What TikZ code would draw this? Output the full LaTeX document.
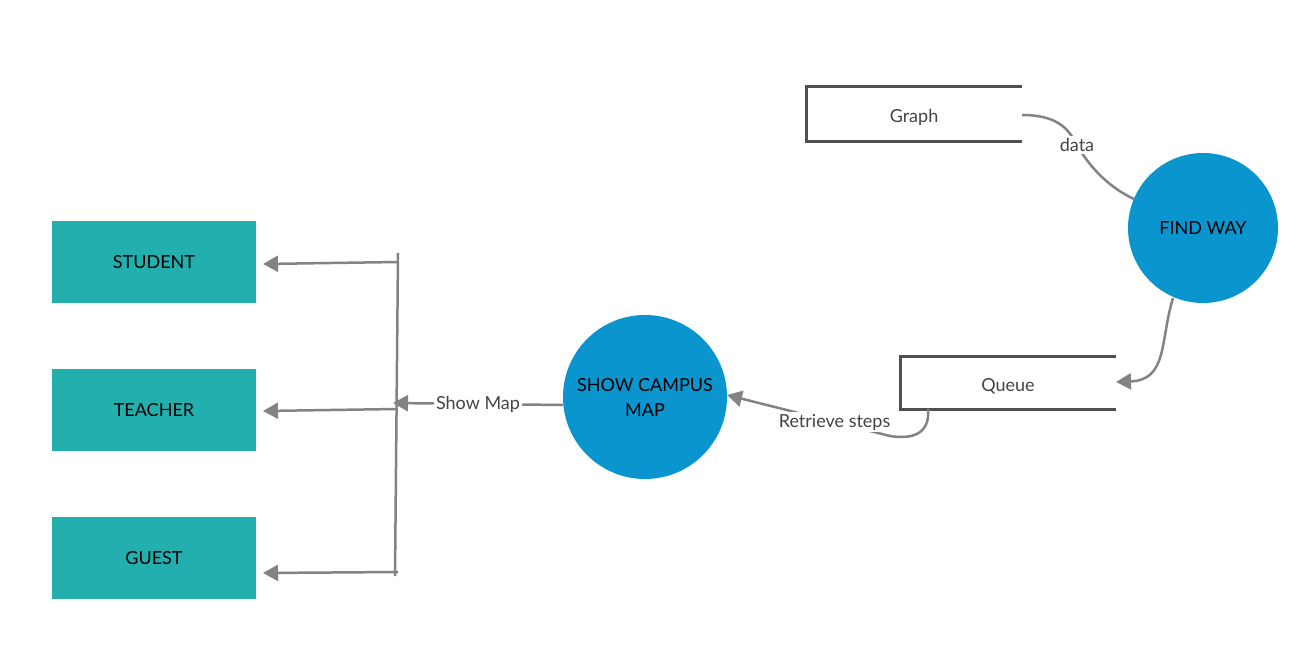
\documentclass[tikz,border=0pt]{standalone}
\usepackage{fontspec}
\setmainfont{Lato}
\usetikzlibrary{arrows.meta}
\definecolor{teal1}{HTML}{22AFAE}
\definecolor{blue1}{HTML}{0A95CE}
\definecolor{conn}{HTML}{838383}
\definecolor{store}{HTML}{4F4F4F}
\definecolor{lbl}{HTML}{444444}
\newcommand{\lowtxt}[1]{\raisebox{-2pt}{#1}}
\begin{document}
\begin{tikzpicture}[x=1pt,y=-1pt,
  actor/.style={draw=none,fill=teal1,minimum width=204pt,minimum height=82pt,inner sep=0pt,font=\fontsize{18}{22}\selectfont,text=black},
  proc/.style={circle,fill=blue1,draw=none,inner sep=0pt,align=center,font=\fontsize{18}{25}\selectfont,text=black},
  conn/.style={draw=conn,line width=2.5pt},
  arr/.style={conn,-{Triangle[length=15pt,width=16pt]}},
  lab/.style={fill=white,inner sep=2pt,text=lbl,font=\fontsize{18}{22}\selectfont},
  storeline/.style={draw=store,line width=3pt},
  stext/.style={text=lbl,font=\fontsize{18}{22}\selectfont}]
\useasboundingbox (0,0) rectangle (1311,658);
\node[actor] (student) at (154,262) {\lowtxt{STUDENT}};
\node[actor] (teacher) at (154,410) {\lowtxt{TEACHER}};
\node[actor] (guest) at (154,558) {\lowtxt{GUEST}};
\node[proc,minimum size=164pt] (show) at (645,397) {SHOW CAMPUS\\MAP};
\node[proc,minimum size=150pt] (find) at (1203,228) {FIND WAY};
% data stores
\draw[storeline] (1022,87) -- (806,87) -- (806,141) -- (1022,141);
\node[stext] (graph) at (914,117) {Graph};
\coordinate (graphR) at (1022,115);
\draw[storeline] (1116,356) -- (900,356) -- (900,409) -- (1116,409);
\node[stext] (queue) at (1008,386) {Queue};
\coordinate (queueR) at (1116,382);
\coordinate (queueB) at (928,409);
% bus
\coordinate (busT) at (398,253);
\coordinate (busB) at (395,576);
\draw[conn] (busT) -- (busB);
\coordinate (b1) at (398,262);
\coordinate (b2) at (397,409);
\coordinate (b3) at (398,572);
\coordinate (s1) at (263,264);
\coordinate (s2) at (263,411);
\coordinate (s3) at (263,573);
\draw[arr] (b1) -- (s1);
\draw[arr] (b2) -- (s2);
\draw[arr] (b3) -- (s3);
% show map
\coordinate (showW) at (563,405);
\coordinate (busM) at (393,403);
\draw[arr] (showW) -- node[lab] {Show Map} (busM);
% retrieve steps
\coordinate (showE) at (727,395);
\draw[arr] (queueB) .. controls (930,432) and (915,440) .. (890,436) -- node[lab,pos=0.34] {Retrieve steps} (showE);
% data
\coordinate (findNW) at (1134,199);
\draw[conn] (graphR) .. controls (1062,115) and (1070,133) .. (1077,145) node[lab] {data} .. controls (1090,168) and (1110,188) .. (findNW);
% find -> queue
\coordinate (findS) at (1173,298);
\draw[arr] (findS) .. controls (1160,340) and (1168,380) .. (queueR);
\end{tikzpicture}
\end{document}
